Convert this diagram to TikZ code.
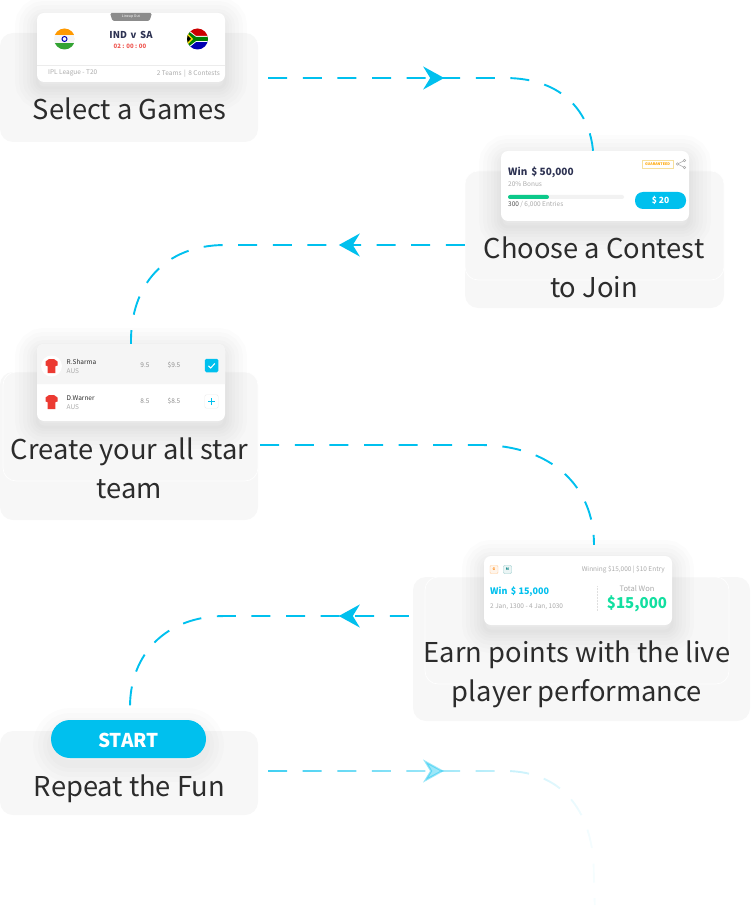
\documentclass[tikz,border=0pt]{standalone}
\usepackage{fontspec}
\setmainfont{Noto Sans CJK SC}
\usetikzlibrary{fadings, arrows.meta, decorations.markings}
\definecolor{skyline}{HTML}{00C0EE}
\definecolor{panelgray}{HTML}{F7F7F7}
\definecolor{inkdark}{HTML}{2C2C2C}
\definecolor{navy}{HTML}{2D3252}
\definecolor{softgray}{HTML}{ABABAB}
\definecolor{midgray}{HTML}{8C8C8C}
\definecolor{wingreen}{HTML}{12DFA0}
\definecolor{barred}{HTML}{EC3A32}
\definecolor{barfill}{HTML}{0CC98A}
\definecolor{goldline}{HTML}{F6DF9C}
\tikzfading[name=fadeloop,left color=transparent!25,right color=transparent!97]
\tikzset{panel/.style={fill=panelgray,rounded corners=13pt,inner sep=0pt},
         panelrim/.style={draw=white,line width=.6pt,rounded corners=13pt},
         blur/.style={preaction={draw=black,opacity=.011,line width=#1,transform canvas={yshift=-6pt}}},
         card/.style={fill=white,rounded corners=7pt,inner sep=0pt,
                      blur=44pt,blur=36pt,blur=28pt,blur=20pt,blur=14pt,blur=8pt,blur=3pt},
         caption/.style={text=inkdark,inner sep=0pt,align=center,font=\fontsize{27.3}{39}\selectfont},
         tiny/.style={text=softgray,inner sep=0pt,font=\fontsize{6.5}{7}\selectfont},
         route/.style={skyline,line width=1.9pt,dash pattern=on 19pt off 15.6pt},
         midarrow/.style={postaction={decorate,decoration={markings,
                mark=at position #1 with {\arrow[solid,skyline]{Stealth[length=21pt,width=23pt,inset=7pt]}}}}},
         jersey/.pic={\fill[white](0,0)circle(10.5);
                \fill[barred](-2.5,-7)--(2.5,-7)--(6,-4.5)--(6,-.5)--(3.8,.2)--(3.8,7)--(-3.8,7)--(-3.8,.2)--(-6,-.5)--(-6,-4.5)--cycle;},
        }

\begin{document}
\begin{tikzpicture}[x=1pt,y=-1pt]
        \useasboundingbox(0,0)rectangle(750,917);

        % panels
        \node[panel,minimum width=258pt,minimum height=109pt](panelgame)at(129,87.5){};
        \node[panel,minimum width=259pt,minimum height=137pt](panelcontest)at(594.5,239.5){};
        \node[panel,minimum width=258pt,minimum height=148pt](panelteam)at(129,446){};
        \node[panel,minimum width=337pt,minimum height=144pt](panelearn)at(581.5,649){};
        \node[panel,minimum width=258pt,minimum height=84pt](panelrepeat)at(129,773){};
        \draw[panelrim](465,171)rectangle(724,280);
        \draw[panelrim](3,372)rectangle(258,481);
        \draw[panelrim](425,577)rectangle(729,684);

        % game card
        \node[card,minimum width=188pt,minimum height=69pt](cardgame)at(131,47.5){};
        \fill[gray!90,rounded corners=1.5pt](110,13)--(112.5,21)--(149.5,21)--(152,13)--cycle;
        \node[inner sep=0pt,text=white,font=\fontsize{3.5}{4}\selectfont](lineup)at(131,17){Lineup Out};
        \begin{scope}
                \clip(64.5,39)circle(10.5);
                \fill[orange!80!yellow](54,28)rectangle(75,35.5);
                \fill[gray!8](54,35.5)rectangle(75,43);
                \fill[green!55!black!80](54,43)rectangle(75,50);
                \draw[blue!70!black,line width=1pt](64.5,39)circle(2.5);
        \end{scope}
        \node[inner sep=0pt,text=navy,font=\fontsize{9.5}{10}\bfseries\selectfont](match)at(131,35){IND\, v\, SA};
        \node[inner sep=0pt,text=barred!85,font=\fontsize{6}{7}\bfseries\selectfont](clock)at(130,46.5){02 : 00 : 00};
        \begin{scope}
                \clip(197.5,39)circle(10.5);
                \fill[red!80!black](186,28)rectangle(209,39);
                \fill[blue!70!black](186,39)rectangle(209,50);
                \fill[white](186,28)--(196,36)--(209,36)--(209,42)--(196,42)--(186,50)--cycle;
                \fill[green!50!black](186,29.5)--(196,37)--(209,37)--(209,41)--(196,41)--(186,48.5)--cycle;
                \fill[yellow!85!orange](186,32)--(193,39)--(186,46)--cycle;
                \fill[black](186,34)--(191,39)--(186,44)--cycle;
        \end{scope}
        \draw[gray!15,line width=.6pt](37,65)--(225,65);
        \node[tiny,anchor=west](league)at(48,73){IPL League - T20};
        \node[tiny,anchor=east](teams)at(220,73.5){2 Teams \,|\, 8 Contests};

        % contest card
        \node[card,minimum width=188pt,minimum height=70pt](cardcontest)at(595,186){};
        \node[draw=goldline,line width=.5pt,inner sep=0pt,minimum width=31pt,minimum height=8pt,
                text=orange!70!yellow,font=\fontsize{3.6}{4}\bfseries\selectfont](guarantee)at(657.5,164){GUARANTEED};
        \draw[softgray,line width=.5pt](684.5,160.5)--(677.5,164)--(684.5,167.5);
        \foreach \a/\b in {677.5/164,684.5/160.5,684.5/167.5}{\draw[softgray,fill=white,line width=.5pt](\a,\b)circle(1.2);}
        \node[inner sep=0pt,anchor=west,text=navy,font=\fontsize{10}{12}\bfseries\selectfont](prize)at(508,172.5){Win\, \$ 50,000};
        \node[tiny,anchor=west](bonus)at(508,184.5){20\% Bonus};
        \fill[gray!10,rounded corners=2pt](508,195)rectangle(624,199);
        \fill[barfill,rounded corners=2pt](508,195)rectangle(549,199);
        \node[tiny,anchor=west](entries)at(508,205){\textcolor{midgray!60!black}{300} / 6,000 Entries};
        \node[fill=skyline,rounded corners=8pt,inner sep=0pt,minimum width=51pt,minimum height=17pt,text=white,
                font=\fontsize{8.5}{9}\bfseries\selectfont](btnfee)at(660.5,200.5){\$ 20};

        % team card
        \node[card,minimum width=188pt,minimum height=77pt](cardteam)at(131,382.5){};
        \fill[gray!8,rounded corners=7pt](37,384)--(37,344)--(225,344)--(225,384);
        \pic(shirtone)at(51.5,366){jersey};
        \pic(shirttwo)at(51.5,402){jersey};
        \node[inner sep=0pt,anchor=west,text=inkdark,font=\fontsize{6.5}{7}\selectfont](nameone)at(66.5,361.5){R.Sharma};
        \node[tiny,anchor=west](countryone)at(66.5,371){AUS};
        \node[tiny,text=midgray](creditone)at(145,365.5){9.5};
        \node[tiny,text=midgray](costone)at(174,365.5){\$9.5};
        \node[fill=skyline,rounded corners=1.5pt,minimum size=13.5pt,inner sep=0pt](checkbox)at(211.5,365.5){};
        \draw[white,line width=1pt](208.5,365.8)--(210.7,368)--(214.8,363.5);
        \node[inner sep=0pt,anchor=west,text=inkdark,font=\fontsize{6.5}{7}\selectfont](nametwo)at(66.5,398){D.Warner};
        \node[tiny,anchor=west](countrytwo)at(66.5,407.5){AUS};
        \node[tiny,text=midgray](credittwo)at(145,401.5){8.5};
        \node[tiny,text=midgray](costtwo)at(174,401.5){\$8.5};
        \node[draw=gray!15,line width=.4pt,rounded corners=1.5pt,minimum size=13.5pt,inner sep=0pt](plusbox)at(211.5,401.5){};
        \fill[skyline](208,400.7)rectangle(215,402.3);
        \fill[skyline](210.7,398)rectangle(212.3,405);

        % result card
        \node[card,minimum width=188pt,minimum height=69pt](cardwin)at(578,590.5){};
        \node[draw=orange!40,fill=orange!8,rounded corners=1pt,minimum size=8pt,inner sep=0pt,text=orange,
                font=\fontsize{3.5}{4}\bfseries\selectfont](badgeg)at(494,569.5){G};
        \node[draw=teal!40,fill=teal!8,rounded corners=1pt,minimum size=8pt,inner sep=0pt,text=teal,
                font=\fontsize{3.5}{4}\bfseries\selectfont](badgem)at(507.5,569.5){M};
        \node[tiny,anchor=east](winning)at(665,570){Winning \$15,000 | \$10 Entry};
        \node[inner sep=0pt,anchor=west,text=skyline,font=\fontsize{9}{10}\bfseries\selectfont](winamount)at(490,591.5){Win\, \$ 15,000};
        \node[tiny,anchor=west](dates)at(490,607){2 Jan, 1300 - 4 Jan, 1030};
        \draw[gray!25,line width=.5pt,densely dotted](597,586)--(597,611);
        \node[tiny,font=\fontsize{7.5}{8}\selectfont](totalwon)at(637,588.5){Total Won};
        \node[inner sep=0pt,text=wingreen,font=\fontsize{15}{18}\bfseries\selectfont](wonamount)at(637,603.5){\$15,000};

        % start button
        \node[fill=skyline,rounded corners=19pt,inner sep=0pt,minimum width=155pt,minimum height=38pt,text=white,
                text height=17pt,text depth=0pt,
                blur=36pt,blur=26pt,blur=16pt,blur=8pt,font=\fontsize{19}{22}\bfseries\selectfont](btnstart)at(128.5,739){START};

        % routes
        \coordinate(fadeend)at(595,905);
        \draw[route,midarrow=176pt]([xshift=10pt,yshift=9.5pt]panelgame.east)--(505,78)
                ..controls(565,78)and(590,115)..([xshift=-2pt]cardcontest.north);
        \draw[route,midarrow=126pt]([yshift=-5.5pt]panelcontest.west)--(225,245)
                ..controls(165,245)and(130,285)..(cardteam.north);
        \draw[route]([xshift=2pt,yshift=1pt]panelteam.east)--(480,445)
                ..controls(550,445)and(594,485)..([xshift=16pt,yshift=11pt]cardwin.north);
        \draw[route,midarrow=70pt]([xshift=-4pt,yshift=33pt]panelearn.west)--(225,616)
                ..controls(165,616)and(130,655)..([xshift=1.5pt,yshift=13pt]btnstart.north);
        \draw[route,midarrow=176pt,path fading=fadeloop]([xshift=10pt,yshift=2pt]panelrepeat.east)--(505,771)
                ..controls(565,771)and(594,815)..(594,873)--(fadeend);

        % captions
        \node[caption](txtgame)at(129.5,109){Select a Games};
        \node[caption](txtcontest)at(594,267.5){Choose a Contest\\to Join};
        \node[caption](txtteam)at(129.5,468.5){Create your all star\\team};
        \node[caption](txtearn)at(577,674){Earn points with the live\\player performance};
        \node[caption](txtrepeat)at(129.5,789){Repeat the Fun};
\end{tikzpicture}
\end{document}
